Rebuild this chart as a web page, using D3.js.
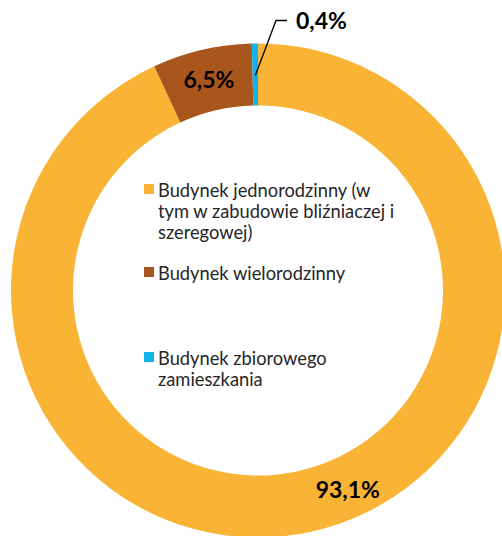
<!DOCTYPE html>
<html>
<head>
<meta charset="utf-8">
<script src="https://cdn.jsdelivr.net/npm/d3@7"></script>
<style>
  html, body { margin: 0; padding: 0; background: #fff; }
  svg { display: block; }
</style>
</head>
<body>
<svg id="chart"></svg>
<script>
const WIDTH = 502, HEIGHT = 536;

// data
const categories = [
    'Budynek jednorodzinny (w tym w zabudowie bliźniaczej i szeregowej)',
    'Budynek wielorodzinny',
    'Budynek zbiorowego zamieszkania'
];
const values = [93.1, 6.5, 0.4];
const valueLabels = ['93,1%', '6,5%', '0,4%'];
const legendLines = [
    ['Budynek jednorodzinny (w', 'tym w zabudowie bliźniaczej i', 'szeregowej)'],
    ['Budynek wielorodzinny'],
    ['Budynek zbiorowego', 'zamieszkania']
];
const colors = ['#F9B335', '#A8561C', '#14B1EA'];

const cx = 258, cy = 290.5;
const outerR = 247, innerR = 185;

const svg = d3.select('#chart')
    .attr('width', WIDTH)
    .attr('height', HEIGHT);

const g = svg.append('g')
    .attr('transform', `translate(${cx},${cy})`);

const pie = d3.pie().sort(null).value(d => d);
const arcs = pie(values);

const arc = d3.arc()
    .innerRadius(innerR)
    .outerRadius(outerR);

g.selectAll('path.slice')
    .data(arcs)
    .enter()
    .append('path')
    .attr('class', 'slice')
    .attr('d', arc)
    .attr('fill', (d, i) => colors[i]);

// data labels
const midR = (innerR + outerR) / 2;
const polar = (a, r) => [r * Math.sin(a), -r * Math.cos(a)];

// big slice label sits off-centroid (like Excel)
const bigPos = polar(155.8 * Math.PI / 180, 219);
g.append('text')
    .attr('x', bigPos[0])
    .attr('y', bigPos[1])
    .attr('dy', '0.35em')
    .attr('text-anchor', 'middle')
    .attr('font-family', 'Lato, "Open Sans", sans-serif')
    .attr('font-weight', 'bold')
    .attr('font-size', '23px')
    .attr('fill', '#000')
    .text(valueLabels[0]);

const c1 = arc.centroid(arcs[1]);
g.append('text')
    .attr('x', c1[0])
    .attr('y', c1[1])
    .attr('dy', '0.35em')
    .attr('text-anchor', 'middle')
    .attr('font-family', 'Lato, "Open Sans", sans-serif')
    .attr('font-weight', 'bold')
    .attr('font-size', '23px')
    .attr('fill', '#000')
    .text(valueLabels[1]);

// small slice: leader line
const a2 = (arcs[2].startAngle + arcs[2].endAngle) / 2;
const p0 = polar(a2, midR - 1);
const p1 = [18, -270];
const p2 = [p1[0] + 11, p1[1]];
g.append('polyline')
    .attr('points', [p0, p1, p2].map(p => p.join(',')).join(' '))
    .attr('fill', 'none')
    .attr('stroke', '#000')
    .attr('stroke-width', 1.3);

g.append('text')
    .attr('x', p2[0] + 9)
    .attr('y', p2[1])
    .attr('dy', '0.35em')
    .attr('font-family', 'Lato, "Open Sans", sans-serif')
    .attr('font-weight', 'bold')
    .attr('font-size', '23px')
    .attr('fill', '#000')
    .text(valueLabels[2]);

// legend inside the ring
const legendX = 144, legendStarts = [197, 280, 365], lineH = 21;

const legend = svg.append('g');
legendLines.forEach((lines, i) => {
    const item = legend.append('g').attr('class', 'legend-item');
    item.append('rect')
        .attr('x', legendX)
        .attr('y', legendStarts[i] - 13)
        .attr('width', 10)
        .attr('height', 10)
        .attr('fill', colors[i]);
    item.append('title').text(categories[i]);
    const t = item.append('text')
        .attr('font-family', 'Lato, "Open Sans", sans-serif')
        .attr('font-size', '18.3px')
        .attr('fill', '#262626');
    lines.forEach((ln, j) => {
        t.append('tspan')
            .attr('x', legendX + 14)
            .attr('y', legendStarts[i] + j * lineH)
            .text(ln);
    });
});
</script>
</body>
</html>
